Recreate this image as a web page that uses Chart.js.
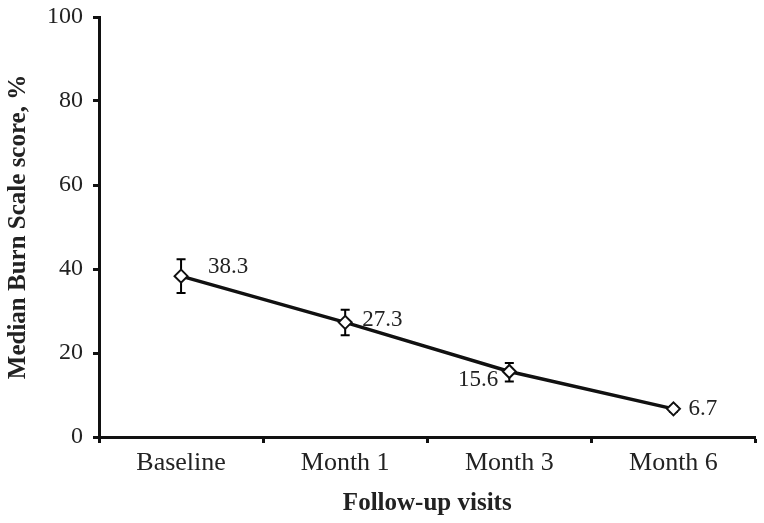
<!DOCTYPE html>
<html>
<head>
<meta charset="utf-8">
<script src="https://cdn.jsdelivr.net/npm/chart.js@4"></script>
<style>
  html, body { margin: 0; padding: 0; background: #fff; }
  #wrap { width: 764px; height: 523px; }
</style>
</head>
<body>
<div id="wrap"><canvas id="burnChart" width="764" height="523"></canvas></div>
<script>
const visits = ['Baseline', 'Month 1', 'Month 3', 'Month 6'];
const medianScore = [38.3, 27.3, 15.6, 6.7];
const errLow = [34.3, 24.2, 13.2, 6.0];
const errHigh = [42.3, 30.3, 17.6, 7.4];
const yTicks = [0, 20, 40, 60, 80, 100];

// where each value label sits relative to its point
const labelOffsets = [
    { dx: 27, dy: -9, align: 'left' },
    { dx: 17, dy: -2, align: 'left' },
    { dx: -11, dy: 8, align: 'right' },
    { dx: 15, dy: 0, align: 'left' }
];

const serif = '"Liberation Serif", "Times New Roman", serif';

const errorBars = {
    id: 'errorBars',
    beforeDatasetsDraw(chart) {
        const ctx = chart.ctx;
        const x = chart.scales.x, y = chart.scales.y;
        ctx.save();
        ctx.strokeStyle = '#000';
        ctx.lineWidth = 2;
        for (let i = 0; i < visits.length; i++) {
            const px = x.getPixelForValue(i);
            const top = y.getPixelForValue(errHigh[i]);
            const bot = y.getPixelForValue(errLow[i]);
            ctx.beginPath();
            ctx.moveTo(px, top); ctx.lineTo(px, bot);
            ctx.moveTo(px - 4.5, top); ctx.lineTo(px + 4.5, top);
            ctx.moveTo(px - 4.5, bot); ctx.lineTo(px + 4.5, bot);
            ctx.stroke();
        }
        ctx.restore();
    }
};

const valueLabels = {
    id: 'valueLabels',
    afterDatasetsDraw(chart) {
        const ctx = chart.ctx;
        const meta = chart.getDatasetMeta(0);
        ctx.save();
        ctx.fillStyle = '#222';
        ctx.font = '23px ' + serif;
        ctx.textBaseline = 'middle';
        meta.data.forEach(function (pt, i) {
            const o = labelOffsets[i];
            ctx.textAlign = o.align;
            ctx.fillText(medianScore[i].toFixed(1), pt.x + o.dx, pt.y + o.dy);
        });
        ctx.restore();
    }
};

const ctx = document.getElementById('burnChart').getContext('2d');
new Chart(ctx, {
    type: 'line',
    data: {
        labels: visits,
        datasets: [{
            data: medianScore,
            borderColor: '#111',
            borderWidth: 3.5,
            tension: 0,
            pointStyle: 'rectRot',
            pointRadius: 6.5,
            pointBackgroundColor: '#fff',
            pointBorderColor: '#111',
            pointBorderWidth: 2
        }]
    },
    options: {
        responsive: false,
        animation: false,
        layout: { padding: { top: 17, right: 7, left: 0, bottom: 0 } },
        plugins: { legend: { display: false }, tooltip: { enabled: false } },
        scales: {
            x: {
                offset: true,
                grid: { offset: true, drawOnChartArea: false, tickLength: 6, tickWidth: 3, tickColor: '#111' },
                border: { display: true, color: '#111', width: 3 },
                ticks: { color: '#222', font: { family: serif, size: 26 }, padding: 5 },
                title: { display: true, text: 'Follow-up visits', color: '#222', font: { family: serif, size: 25, weight: 'bold' }, padding: { top: 6 } },
                afterFit(scale) { scale.height = 86; scale.paddingLeft = 0; scale.paddingRight = 0; }
            },
            y: {
                min: 0,
                max: 100,
                afterBuildTicks(scale) { scale.ticks = yTicks.map(v => ({ value: v })); },
                grid: { drawOnChartArea: false, tickLength: 6, tickWidth: 3, tickColor: '#111' },
                border: { display: true, color: '#111', width: 3 },
                ticks: { color: '#222', font: { family: serif, size: 24 }, padding: 10 },
                title: { display: true, text: 'Median Burn Scale score, %', color: '#222', font: { family: serif, size: 25, weight: 'bold' }, padding: { bottom: 6 } },
                afterFit(scale) { scale.width = 99; scale.paddingTop = 0; scale.paddingBottom = 0; }
            }
        }
    },
    plugins: [errorBars, valueLabels]
});
</script>
</body>
</html>
